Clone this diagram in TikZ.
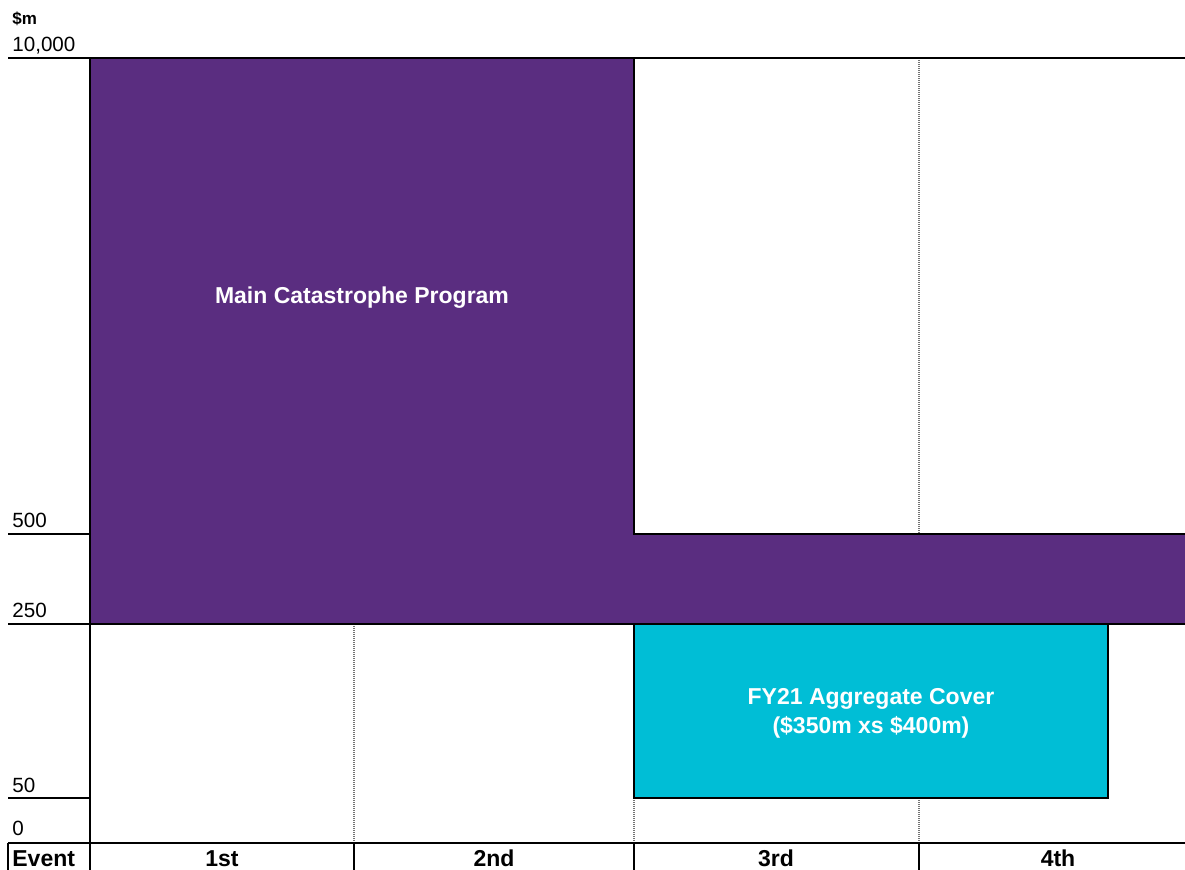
\documentclass[tikz,border=0pt]{standalone}
\usepackage{fontspec}
\setmainfont{Liberation Sans}
\definecolor{catpurple}{RGB}{90,45,128}
\definecolor{aggcyan}{RGB}{0,190,214}
\tikzset{
    %Define style for solid rules
    rule/.style={
           draw=black,
           line width=1.2pt},
    %Define style for dotted column lines
    divider/.style={
           draw=black!55,
           line width=1.1pt,
           dash pattern=on 0.5pt off 0.5pt},
    %Define style for axis values
    axval/.style={
           anchor=base west,
           inner sep=0pt,
           font=\fontsize{10.3}{12}\selectfont},
    %Define style for column heads
    colhead/.style={
           anchor=base,
           inner sep=0pt,
           font=\fontsize{11.5}{14}\selectfont\bfseries},
    % Define style for layer labels
    layerlabel/.style={
           text=white,
           align=center,
           inner sep=0pt,
           font=\fontsize{11.5}{14.5}\selectfont\bfseries}
}
\begin{document}
\begin{tikzpicture}[x=0.5pt,y=-0.5pt]
\useasboundingbox (0,0) rectangle (1185,870);
% layers
\fill[catpurple] (90,58) -- (634,58) -- (634,534) -- (1185,534)
                 -- (1185,624) -- (90,624) -- cycle;
\draw[divider] (919,58) -- (919,534);
\draw[divider] (354,624) -- (354,843);
\draw[divider] (634,624) -- (634,843);
\draw[divider] (919,624) -- (919,843);
\draw[rule, fill=aggcyan] (634,624) rectangle (1108,798);
% rules
\draw[rule] (8,58) -- (1185,58);
\draw[rule] (8,534) -- (90,534);
\draw[rule] (634,58) -- (634,534) -- (1185,534);
\draw[rule] (8,624) -- (1185,624);
\draw[rule] (8,798) -- (90,798);
\draw[rule] (8,843) -- (1185,843);
\draw[rule] (90,58) -- (90,870);
\draw[rule] (8,843) -- (8,870);
\draw[rule] (354,843) -- (354,870);
\draw[rule] (634,843) -- (634,870);
\draw[rule] (919,843) -- (919,870);

\node[axval, font=\fontsize{8.5}{10}\selectfont\bfseries] (unit) at (12,25) {\$m};
\node[axval] (v10000) at (12,52) {10,000};
\node[axval] (v500) at (12,528) {500};
\node[axval] (v250) at (12,618) {250};
\node[axval] (v50) at (12,793) {50};
\node[axval] (v0) at (12,836) {0};

\node[colhead, anchor=base west] (event) at (12,867) {Event};
\node[colhead] (ev1) at (222,867) {1st};
\node[colhead] (ev2) at (494,867) {2nd};
\node[colhead] (ev3) at (776,867) {3rd};
\node[colhead] (ev4) at (1058,867) {4th};

\node[layerlabel] (main) at (362,298) {Main Catastrophe Program};
\node[layerlabel] (agg) at (871,713) {FY21 Aggregate Cover\\(\$350m xs \$400m)};
\end{tikzpicture}
\end{document}
